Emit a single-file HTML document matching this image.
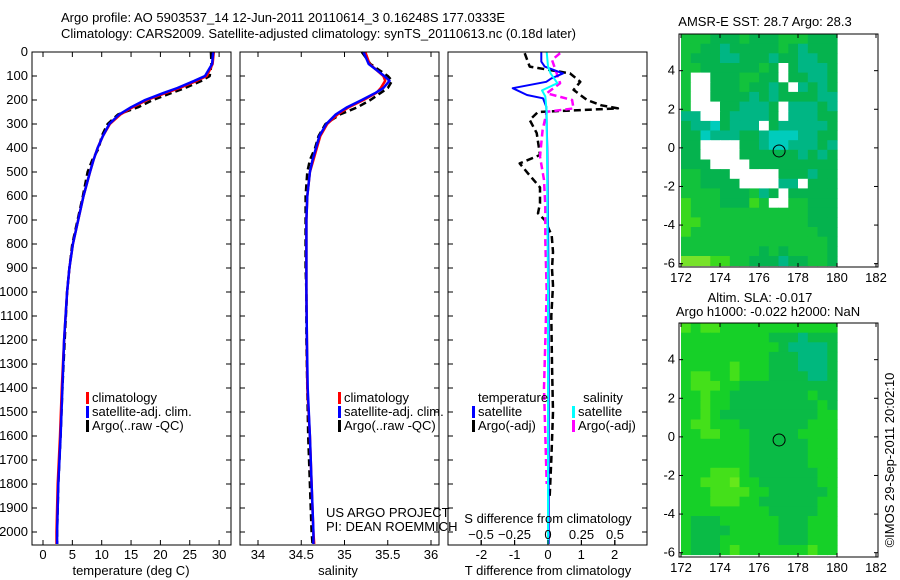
<!DOCTYPE html>
<html><head><meta charset="utf-8"><style>
html,body{margin:0;padding:0;background:#fff;}
svg{display:block;font-family:"Liberation Sans",sans-serif;font-size:13px;}
</style></head><body>
<svg id="fig" width="900" height="580" viewBox="0 0 900 580">
<text x="61" y="22">Argo profile: AO 5903537_14 12-Jun-2011 20110614_3 0.16248S 177.0333E</text>
<text x="61" y="38">Climatology: CARS2009. Satellite-adjusted climatology: synTS_20110613.nc (0.18d later)</text>
<g id="p1"></g>
<g id="p2"></g>
<g id="p3"></g>
<g id="m1"></g>
<g id="m2"></g>
<text x="765" y="26" text-anchor="middle">AMSR-E SST: 28.7 Argo: 28.3</text>
<text x="760" y="302" text-anchor="middle">Altim. SLA: -0.017</text>
<text x="768" y="316" text-anchor="middle">Argo h1000: -0.022 h2000: NaN</text>
<text transform="translate(894,460) rotate(-90)" text-anchor="middle">©IMOS 29-Sep-2011 20:02:10</text>
<text x="326" y="517">US ARGO PROJECT</text>
<text x="326" y="531">PI: DEAN ROEMMICH</text>
</svg>
<script>
// ---- data ----
const depth = [0,50,100,120,150,170,200,230,260,300,350,400,450,500,600,700,800,900,1000,1200,1400,1600,1800,2000,2050];
const tempClim = [29.1,28.9,27.9,26.2,23.3,21,17.7,15.3,13.2,11.4,10.2,9.3,8.6,8.0,6.9,6.0,5.1,4.5,4.1,3.6,3.2,2.9,2.5,2.3,2.3];
const tempSat = [29.0,28.8,27.6,25.8,22.9,20.6,17.4,15.0,13.0,11.3,10.2,9.3,8.6,8.0,6.9,6.0,5.1,4.5,4.1,3.6,3.3,3.0,2.6,2.4,2.4];
const tempArgo = [28.6,28.7,28.4,27.0,24.2,22.0,18.7,16.2,12.8,11.0,10.0,9.5,8.4,7.6,6.8,5.9,5.0,4.5,4.1,3.7,3.3,3.0,2.6,2.4,2.4];
const salClim = [35.24,35.29,35.45,35.47,35.42,35.37,35.22,35.05,34.92,34.8,34.72,34.68,34.64,34.6,34.57,34.56,34.56,34.56,34.56,34.565,34.57,34.6,34.62,34.64,34.65];
const salSat = [35.22,35.28,35.46,35.52,35.45,35.36,35.20,35.03,34.9,34.79,34.71,34.67,34.63,34.6,34.57,34.56,34.56,34.56,34.56,34.565,34.575,34.6,34.62,34.64,34.64];
const salArgo = [35.2,35.3,35.5,35.55,35.5,35.42,35.3,35.15,34.95,34.78,34.7,34.66,34.6,34.57,34.55,34.55,34.55,34.55,34.56,34.56,34.57,34.58,34.6,34.62,34.63];
const tSatDepth = [0,40,61,89,110,124,151,179,193,228,400,1000,2050];
const tSatDiff = [-0.2,-0.2,-0.1,0.45,0.1,-0.05,-1.06,-0.63,-0.15,-0.05,-0.02,0.02,0.02];
const sSatDepth = [0,60,90,130,160,185,250,1000,2050];
const sSatDiff = [-0.01,0,0.02,0.07,-0.045,-0.02,-0.01,0.0,0.0];
const tArgoDepth = [5,61,89,124,158,200,222,235,250,283,338,429,464,506,564,631,672,700,764,833,903,972,1100,1300,1500,1700,1850];
const tArgoDiff = [-0.7,-0.55,0.66,0.97,0.77,1.17,1.6,2.1,-0.3,-0.55,-0.34,-0.24,-0.85,-0.6,-0.24,-0.24,-0.3,-0.1,0.11,0.15,0.12,0.15,0.1,0.12,0.15,0.1,0.05];
const sArgoDepth = [5,33,130,172,200,235,249,325,436,533,644,783,1000,1400,1800];
const sArgoDiff = [0.09,0.03,0.09,-0.01,0.18,0.19,-0.01,-0.04,-0.06,-0.03,-0.02,-0.02,-0.01,-0.03,-0.01];
const depthTicks = [0,100,200,300,400,500,600,700,800,900,1000,1100,1200,1300,1400,1500,1600,1700,1800,1900,2000];
const tempTicks = [0,5,10,15,20,25,30];
const salTicks = [34,34.5,35,35.5,36];
const tDiffTicks = [-2,-1,0,1,2];
const sDiffTicks = [-0.5,-0.25,0,0.25,0.5];
const sstGrid = [
"gggdddgdddgggddd","ggddtdddddgdtddd","gdddttdddtddttdd","ggddddddgdwdtttd",
"gwwdddggddwddttd","gwwdddgddtdwtdtd","gwwddddtdtddddtt","gwwwddtttdwtttdt",
"ttwwdttttdwtttdd","dttcdtttwdtttttd","ddctttddtcccttdd","ddwwwwddtcctttdt",
"ddwwwwddddddtdtd","dddwwwwddddddddd","ggdddwwwwwdddtdd","ggddddwwwwttwddd",
"ggggdddgtdwddddd","lgggdddlgwwggddd","lggggggggggggddd","llgggggggggggddd",
"lgggggggggggggdd","gggggggggggggggd","ggggggggdgdggggd","yyyllggdddtddggd"];
const slaGrid = [
"lgllgggggggggggg","gggggggggdddtddd","ggggggggggdttttd","gggggggggdddtttd",
"ggggglgggdddtttd","gllgglgggddddttd","glllggdddddddddd","gglggddddddddgdd",
"gglggdddddddddgd","gglgddddddddddgg","gllgggdddddddggg","ggllgggdddddgggg",
"gggggggddddddggg","gggggggddddddggg","gggggggddddddggg","ggglllgdddddddgg",
"gglllyggddddddgg","gggllllggddddddg","ggglllggddddddgg","gggggggggdddddgg",
"gdddggggggdddggg","gddddgggggdddggg","gdddggggggdddggg","gdddglggggggglgg"];
const sstColors = {g:"#12c23c",d:"#05b34e",t:"#00b684",c:"#00ccbc",l:"#3ad81e",y:"#78e22a",w:"#ffffff"};
const slaColors = {g:"#16d028",d:"#0abb46",t:"#00b87e",l:"#44e01a",y:"#66e81a",w:"#ffffff"};
const argoLon = 177.03, argoLat = -0.16;

const NS="http://www.w3.org/2000/svg";
function mk(parent,tag,attrs){const e=document.createElementNS(NS,tag);for(const k in attrs)e.setAttribute(k,attrs[k]);parent.appendChild(e);return e;}
const Y0=52, YS=0.24;
const yD = d => Y0 + d*YS;
const xT = v => 43 + v*5.87;
const xS = v => 258 + (v-34)*86.5;
const xTd = v => 548 + v*33.3;
const xSd = v => 548 + v*134;

function frame(g,x0,x1,name){
  const r=mk(g,'rect',{x:x0,y:52,width:x1-x0,height:493,fill:'none',stroke:'#000','stroke-width':1});
  
  
}
function line(g,xs,ds,fx,color,dash,w,name){
  const pts=xs.map((v,i)=>fx(v).toFixed(1)+','+yD(ds[i]).toFixed(1)).join(' ');
  const a={points:pts,fill:'none',stroke:color,'stroke-width':w,'stroke-linejoin':'round'};
  if(dash)a['stroke-dasharray']=dash;
  const p=mk(g,'polyline',a);
  
  
}
function yTicks(g,x0,x1,labels){
  depthTicks.forEach(d=>{
    const y=yD(d);
    mk(g,'line',{x1:x0,y1:y,x2:x0+5,y2:y,stroke:'#000'});
    mk(g,'line',{x1:x1-5,y1:y,x2:x1,y2:y,stroke:'#000'});
    if(labels){const t=mk(g,'text',{x:x0-4,y:y+4,'text-anchor':'end'});t.textContent=d;
      
      }
  });
}
function xTicks(g,ticks,fx,ly,fmt,top){
  ticks.forEach(v=>{
    const x=fx(v);
    mk(g,'line',{x1:x,y1:545,x2:x,y2:540,stroke:'#000'});
    if(top)mk(g,'line',{x1:x,y1:52,x2:x,y2:57,stroke:'#000'});
    const t=mk(g,'text',{x:x,y:ly,'text-anchor':'middle'});t.textContent=fmt(v);
    
    
  });
}
function legend(g,x,y,items){
  items.forEach((it,i)=>{
    const r=mk(g,'rect',{x:x,y:y+i*14-10,width:3,height:12,fill:it[0]});
    
    
    const t=mk(g,'text',{x:x+6,y:y+i*14});t.textContent=it[1];
    
    
  });
}
function label(g,x,y,s,name){const t=mk(g,'text',{x:x,y:y,'text-anchor':'middle'});t.textContent=s;
  
  }

// Panel 1
const p1=document.getElementById('p1');
line(p1,tempArgo,depth,xT,'#000','7,4',2.5,'temperature-argo-line');
line(p1,tempClim,depth,xT,'#f00',null,2.5,'temperature-climatology-line');
line(p1,tempSat,depth,xT,'#0000ff',null,2.5,'temperature-satellite-line');
frame(p1,32,231,'temperature-frame');
yTicks(p1,32,231,true);
xTicks(p1,tempTicks,xT,559,v=>v,true);
label(p1,131,575,'temperature (deg C)','temperature-axis-title');
legend(p1,86,402,[['#f00','climatology'],['#0000ff','satellite-adj. clim.'],['#000','Argo(..raw -QC)']]);

// Panel 2
const p2=document.getElementById('p2');
line(p2,salArgo,depth,xS,'#000','7,4',2.5,'salinity-argo-line');
line(p2,salClim,depth,xS,'#f00',null,2.5,'salinity-climatology-line');
line(p2,salSat,depth,xS,'#0000ff',null,2.5,'salinity-satellite-line');
frame(p2,240,439,'salinity-frame');
yTicks(p2,240,439,false);
xTicks(p2,salTicks,xS,559,v=>v,true);
label(p2,338,575,'salinity','salinity-axis-title');
legend(p2,338,402,[['#f00','climatology'],['#0000ff','satellite-adj. clim.'],['#000','Argo(..raw -QC)']]);

// Panel 3
const p3=document.getElementById('p3');
line(p3,tArgoDiff,tArgoDepth,xTd,'#000','7,4',2.5,'t-diff-argo-line');
line(p3,sArgoDiff,sArgoDepth,xSd,'#ff00ff','7,4',2.5,'s-diff-argo-line');
line(p3,tSatDiff,tSatDepth,xTd,'#0000ff',null,2,'t-diff-satellite-line');
line(p3,sSatDiff,sSatDepth,xSd,'#00ffff',null,2,'s-diff-satellite-line');
frame(p3,448,647,'difference-frame');
yTicks(p3,448,647,false);
xTicks(p3,tDiffTicks,xTd,559,v=>v,false);
xTicks(p3,sDiffTicks,xSd,539,v=>(v<0?'\u2212'+(-v):v),false);
label(p3,548,575,'T difference from climatology','t-diff-axis-title');
label(p3,548,523,'S difference from climatology','s-diff-axis-title');
label(p3,513,402,'temperature','legend-temperature-header');
label(p3,603,402,'salinity','legend-salinity-header');
legend(p3,472,416,[['#0000ff','satellite'],['#000','Argo(-adj)']]);
legend(p3,572,416,[['#00ffff','satellite'],['#ff00ff','Argo(-adj)']]);

// Maps
function map(id,grid,colors,top,bottom,name){
  const g=document.getElementById(id);
  const lx=v=>681+(v-172)*19.5;
  const lat4=top+ (5.9-4)*19.3;
  const ly=v=>lat4+(4-v)*19.3;
  grid.forEach((row,r)=>{
    for(let c=0;c<row.length;c++){
      const lon=172+c*0.5, lat=5.9-r*0.5;
      const cell=mk(g,'rect',{x:lx(lon).toFixed(1),y:ly(lat).toFixed(1),width:10.3,height:10.1,fill:colors[row[c]]});
      
      
    }
  });
  const fr=mk(g,'rect',{x:679,y:top,width:199,height:bottom-top,fill:'none',stroke:'#000'});
  
  
  [172,174,176,178,180,182].forEach(v=>{
    const x=lx(v);
    mk(g,'line',{x1:x,y1:top,x2:x,y2:top+4,stroke:'#000'});
    mk(g,'line',{x1:x,y1:bottom,x2:x,y2:bottom-4,stroke:'#000'});
    const t=mk(g,'text',{x:x,y:bottom+15,'text-anchor':'middle'});t.textContent=v;
    
    
  });
  [4,2,0,-2,-4,-6].forEach(v=>{
    const y=ly(v);
    mk(g,'line',{x1:679,y1:y,x2:683,y2:y,stroke:'#000'});
    mk(g,'line',{x1:874,y1:y,x2:878,y2:y,stroke:'#000'});
    const t=mk(g,'text',{x:675,y:y+4,'text-anchor':'end'});t.textContent=(v<0?'-'+(-v):v);
    
    
  });
  const c=mk(g,'circle',{cx:lx(argoLon),cy:ly(argoLat),r:6,fill:'none',stroke:'#000'});
  
  
}
map('m1',sstGrid,sstColors,34,267,'sst-map');
map('m2',slaGrid,slaColors,323,557,'sla-map');
</script>
</body></html>
